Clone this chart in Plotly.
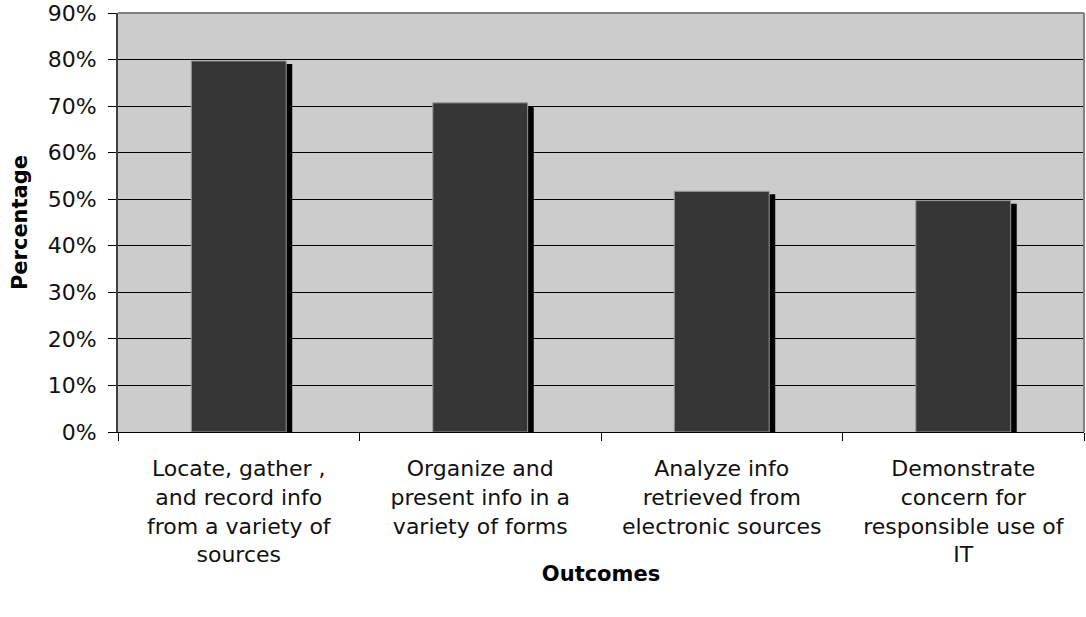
import plotly.graph_objects as go

categories = [
    "Locate, gather ,<br>and record info<br>from a variety of<br>sources",
    "Organize and<br>present info in a<br>variety of forms",
    "Analyze info<br>retrieved from<br>electronic sources",
    "Demonstrate<br>concern for<br>responsible use of<br>IT",
]
values = [79.7, 70.7, 51.7, 49.7]

FONT = "DejaVu Sans"
FS = 22
bar_w = 0.393
shadow_dx = 0.025
shadow_dy = 0.65  # percentage units the shadow sits lower

fig = go.Figure()
fig.add_trace(go.Bar(
    x=categories, y=[v - shadow_dy for v in values],
    width=bar_w, offset=-bar_w / 2 + shadow_dx,
    marker=dict(color="#000000", line=dict(width=0)),
    hoverinfo="skip", showlegend=False,
))
fig.add_trace(go.Bar(
    x=categories, y=values,
    width=bar_w, offset=-bar_w / 2,
    marker=dict(color="#363636", line=dict(color="#9a9a9a", width=1)),
    showlegend=False,
))

fig.update_layout(
    width=1086, height=617,
    margin=dict(l=118, r=2, t=13, b=185),
    paper_bgcolor="white",
    plot_bgcolor="#CCCCCC",
    barmode="overlay",
    font=dict(family=FONT, size=FS, color="#111111"),
    xaxis=dict(
        type="category",
        tickson="boundaries",
        ticks="outside", ticklen=8, tickcolor="black", tickwidth=1,
        showgrid=False,
        showline=True, linecolor="black", linewidth=1,
        ticklabelstandoff=17,
        tickfont=dict(family=FONT, size=FS),
        title=dict(text="<b>Outcomes</b>", font=dict(family=FONT, size=FS - 1, color="black"), standoff=0),
    ),
    yaxis=dict(
        range=[0, 90], dtick=10, ticksuffix="%",
        ticks="outside", ticklen=8, tickcolor="black", tickwidth=1,
        showgrid=True, gridcolor="black", gridwidth=1,
        zeroline=False,
        showline=True, linecolor="#404040", linewidth=2,
        ticklabelstandoff=7,
        tickfont=dict(family=FONT, size=FS),
        title=dict(text="<b>Percentage</b>", font=dict(family=FONT, size=FS - 1, color="black"), standoff=14),
    ),
    shapes=[
        dict(type="line", xref="paper", yref="paper", x0=0, x1=1, y0=1, y1=1,
             line=dict(color="#808080", width=2)),
        dict(type="line", xref="paper", yref="paper", x0=1, x1=1, y0=0, y1=1,
             line=dict(color="#808080", width=2)),
    ],
)

fig.write_html("out.html")
